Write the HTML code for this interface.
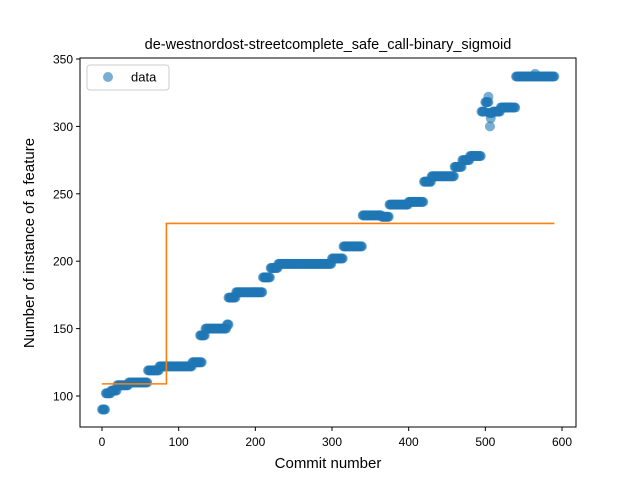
<!DOCTYPE html>
<html><head><meta charset="utf-8"><style>
body{margin:0;background:#fff;font-family:"Liberation Sans","DejaVu Sans",sans-serif}
</style></head><body>
<svg id="chart" width="640" height="480" xmlns="http://www.w3.org/2000/svg">
<rect width="640" height="480" fill="#fff"/>
<text x="328" y="49" text-anchor="middle" font-size="14.5">de-westnordost-streetcomplete_safe_call-binary_sigmoid</text>
<g id="marks"></g>
<rect x="80" y="58" width="496" height="369" fill="none" stroke="#000" stroke-width="1"/>
<g id="xt"></g><g id="yt"></g>
<text x="328" y="468" text-anchor="middle" font-size="15">Commit number</text>
<text transform="translate(34,243) rotate(-90)" text-anchor="middle" font-size="15">Number of instance of a feature</text>
<g>
<rect x="87" y="65" width="82" height="25" rx="3" fill="#fff" stroke="#ccc"/>
<circle cx="108" cy="77" r="5" fill="#1f77b4" fill-opacity="0.6"/>
<text x="131" y="81.5" font-size="13">data</text>
</g>
</svg>
<script>
const segStart=[0,5,12,20,35,60,75,118,128,135,163,165,175,210,220,230,300,315,340,365,375,400,420,430,460,470,480,495,500,505,510,520,540];
const segEnd=  [4,11,19,34,59,74,117,130,134,162,165,174,209,219,229,299,314,339,364,374,399,419,429,459,469,479,494,499,504,509,519,539,590];
const segValue=[90,102,104,108,110,119,122,125,145,150,153,173,177,188,195,198,202,211,234,233,242,244,259,263,270,275,278,311,318,310,311,314,337];
const outlierX=[504,506,507,565];
const outlierY=[322,300,306,339];
const fitX=[0,84,84,590];
const fitY=[109,109,228,228];
const xTicks=[0,100,200,300,400,500,600];
const yTicks=[100,150,200,250,300,350];
const sx=v=>102+v*0.7667;
const sy=v=>396-(v-100)*1.348;
const NS="http://www.w3.org/2000/svg";
const marks=document.getElementById('marks');
function dot(c,v){
  const el=document.createElementNS(NS,'circle');
  el.setAttribute('cx',sx(c));el.setAttribute('cy',sy(v));
  el.setAttribute('r',5);el.setAttribute('fill','#1f77b4');el.setAttribute('fill-opacity','0.6');
  
  
  marks.appendChild(el);
}
for(let s=0;s<segStart.length;s++){
 for(let c=segStart[s];c<=segEnd[s];c++) dot(c,segValue[s]);
}
outlierX.forEach((x,i)=>dot(x,outlierY[i]));
const pl=document.createElementNS(NS,'polyline');
pl.setAttribute('points',fitX.map((x,i)=>sx(x)+','+sy(fitY[i])).join(' '));
pl.setAttribute('fill','none');pl.setAttribute('stroke','#ff7f0e');pl.setAttribute('stroke-width','1.6');


marks.appendChild(pl);
const xt=document.getElementById('xt');
xTicks.forEach(t=>{
 const g=document.createElementNS(NS,'g');
 
 
 g.innerHTML=`<line x1="${sx(t)}" x2="${sx(t)}" y1="427" y2="431" stroke="#000"/><text x="${sx(t)}" y="446" text-anchor="middle" font-size="12">${t}</text>`;
 xt.appendChild(g);
});
const yt=document.getElementById('yt');
yTicks.forEach(t=>{
 const g=document.createElementNS(NS,'g');
 
 
 g.innerHTML=`<line x1="76" x2="80" y1="${sy(t)}" y2="${sy(t)}" stroke="#000"/><text x="73" y="${sy(t)+4.5}" text-anchor="end" font-size="12">${t}</text>`;
 yt.appendChild(g);
});
</script>
</body></html>
